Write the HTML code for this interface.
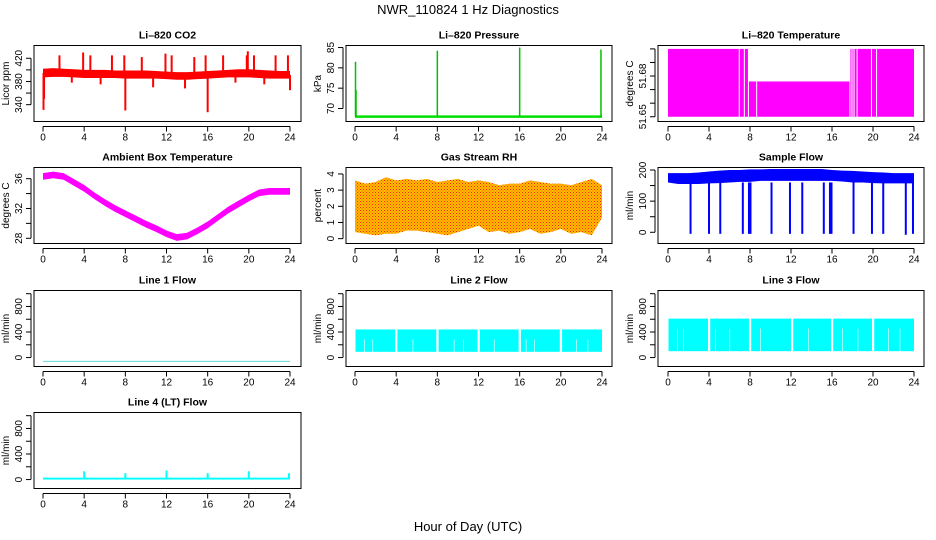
<!DOCTYPE html>
<html><head><meta charset="utf-8">
<style>
html,body{margin:0;padding:0;background:#fff;}
svg{display:block;font-family:"Liberation Sans",sans-serif;}
</style></head>
<body>
<svg id="chart" width="936" height="540" viewBox="0 0 936 540">
<text x="468" y="14" text-anchor="middle" font-size="13">NWR_110824  1 Hz Diagnostics</text>
<text x="468" y="531" text-anchor="middle" font-size="13">Hour of Day (UTC)</text>
</svg>
<script>
// ---- data arrays ----
var hourTicks = [0,4,8,12,16,20,24];
var hours = [0,1,2,3,4,5,6,7,8,9,10,11,12,13,14,15,16,17,18,19,20,21,22,23,24];
// CO2
var co2Low  = [387,388,388,387,386,386,386,386,385,385,385,385,384,383,383,384,385,386,387,387,387,386,385,385,385];
var co2High = [402,403,402,401,400,400,400,399,399,399,399,398,397,396,396,397,398,399,400,401,401,400,399,398,398];
var co2SpikeHour = [0.05,0.1,1.6,2.8,3.9,4.6,5.6,6.7,7.9,8.0,9.6,10.7,11.9,12.5,13.8,14.7,15.8,16.0,17.5,18.7,19.8,19.9,20.5,21.5,22.6,23.8,24.0];
var co2SpikeVal  = [331,350,425,378,430,425,375,425,425,330,422,370,428,425,368,422,425,327,425,378,425,432,425,375,425,425,365];
// Pressure
var presBase = 68;
var presSpikeHour = [0.05,0.1,8.0,16.0,23.9];
var presSpikeVal  = [81.5,74.5,84.2,85.0,84.5];
// Li-820 Temperature
var tempSegStart = [0.0,7.0,7.5,7.9,8.7,17.8,18.0,18.2,18.5,19.9,20.4];
var tempSegEnd   = [6.9,7.4,7.8,8.6,17.7,17.9,18.1,18.4,19.8,20.3,24.0];
var tempSegTop   = [51.70,51.70,51.70,51.676,51.676,51.70,51.70,51.70,51.70,51.70,51.70];
var tempBottom = 51.65;
// Ambient box temperature (hourly centre)
var ambient = [36.3,36.5,36.3,35.5,34.7,33.7,32.8,32.0,31.3,30.6,29.9,29.3,28.6,28.1,28.3,29.0,29.8,30.8,31.8,32.6,33.4,34.1,34.3,34.3,34.3];
// Gas stream RH
var rhLow  = [0.4,0.3,0.2,0.3,0.3,0.5,0.5,0.4,0.3,0.2,0.4,0.6,0.8,0.4,0.5,0.3,0.4,0.6,0.3,0.4,0.6,0.3,0.4,0.2,1.3];
var rhHigh = [3.6,3.4,3.5,3.8,3.6,3.7,3.6,3.7,3.5,3.6,3.7,3.5,3.6,3.5,3.3,3.4,3.4,3.6,3.5,3.4,3.4,3.3,3.5,3.7,3.3];
// Sample flow
var sfLow  = [160,155,155,155,157,158,160,162,162,165,165,165,165,165,165,165,165,163,160,160,158,157,157,157,157];
var sfHigh = [190,190,190,192,195,198,200,200,202,202,203,203,203,203,203,203,200,198,197,195,193,192,190,190,190];
var sfDropHour = [2.2,4.0,5.1,7.3,7.9,8.05,10.1,11.9,13.1,15.2,15.8,15.95,18.1,19.9,21.0,23.2,23.9];
var sfDropVal  = [-5,-5,-5,-5,-5,-5,-5,-5,-5,-5,-5,-5,-5,-5,-5,-8,-5];
// Line flows
var line1Val = -60;
var line2Low = 90, line2High = 440;
var line2GapHour = [0.9,1.7,3.9,5.6,7.9,9.6,10.5,11.9,13.5,15.9,16.6,17.4,19.9,21.5,22.6];
var line2GapWide = [0,0,1,0,1,0,0,1,0,1,0,0,1,0,0];
var line3Low = 100, line3High = 610;
var line3GapHour = [0.9,1.5,3.9,4.6,6.0,7.9,9.0,12.0,13.7,15.9,17.0,18.5,19.9,21.5,22.6];
var line3GapWide = [0,0,1,0,0,1,0,1,0,1,0,0,1,0,0];
var line4Base = 15;
var line4SpikeHour = [4.0,8.0,12.0,16.0,20.0,23.9];
var line4SpikeVal  = [130,100,140,100,130,100];

// ---- layout ----
var NS="http://www.w3.org/2000/svg";
var svg=document.getElementById('chart');
var colX0=[43,355,668], colX24=[290,602,914], boxL=[34,346,658], boxR=[301,612,924];
var rowTop=[45.5,167.5,290.5,412.5], rowH=76;
function el(tag,attrs,parent){var e=document.createElementNS(NS,tag);for(var k in attrs)e.setAttribute(k,attrs[k]);(parent||svg).appendChild(e);return e;}

function panel(name,title,ylabel,c,r,ymin,ymax,yticks,ylabels){
  var g=el('g',{});
  
  
  var top=rowTop[r],bot=top+rowH;
  var xs=function(h){return colX0[c]+(colX24[c]-colX0[c])*h/24;};
  var ys=function(v){return bot-(v-ymin)/(ymax-ymin)*rowH;};
  var cx=(boxL[c]+boxR[c])/2;
  var t=el('text',{x:cx,y:top-7,'text-anchor':'middle','font-size':'10.5','font-weight':'bold'},g);
  t.textContent=title;
  
  
  var b=el('rect',{x:boxL[c],y:top,width:boxR[c]-boxL[c],height:rowH,fill:'none',stroke:'#000','stroke-width':1},g);
  
  
  var xa=el('g',{},g);
  
  
  el('line',{x1:xs(0),x2:xs(24),y1:bot+5,y2:bot+5,stroke:'#000'},xa);
  hourTicks.forEach(function(h){
    el('line',{x1:xs(h),x2:xs(h),y1:bot+5,y2:bot+10,stroke:'#000'},xa);
    var tl=el('text',{x:xs(h),y:bot+19,'text-anchor':'middle','font-size':'10'},xa);
    tl.textContent=h;
  });
  var ya=el('g',{},g);
  
  
  var ax=boxL[c]-3;
  el('line',{x1:ax,x2:ax,y1:ys(yticks[0]),y2:ys(yticks[yticks.length-1]),stroke:'#000'},ya);
  yticks.forEach(function(v,i){
    el('line',{x1:ax-5,x2:ax,y1:ys(v),y2:ys(v),stroke:'#000'},ya);
    if(ylabels[i]!==''){
      var yl=el('text',{x:ax-9,y:ys(v),'text-anchor':'middle','font-size':'10',transform:'rotate(-90 '+(ax-9)+' '+ys(v)+')'},ya);
      yl.textContent=ylabels[i];
    }
  });
  var yt=el('text',{x:boxL[c]-25,y:(top+bot)/2,'text-anchor':'middle','font-size':'10',transform:'rotate(-90 '+(boxL[c]-25)+' '+((top+bot)/2)+')'},g);
  yt.textContent=ylabel;
  
  
  var d=el('g',{},g);
  
  
  return {xs:xs,ys:ys,g:d};
}
function band(p,lows,highs,color){
  var pts=[];
  hours.forEach(function(h,i){pts.push(p.xs(h)+','+p.ys(highs[i]));});
  for(var i=hours.length-1;i>=0;i--)pts.push(p.xs(hours[i])+','+p.ys(lows[i]));
  var e=el('polygon',{points:pts.join(' '),fill:color},p.g);
  
  
}
function vline(p,h,v1,v2,color,w){
  var e=el('line',{x1:p.xs(h),x2:p.xs(h),y1:p.ys(v1),y2:p.ys(v2),stroke:color,'stroke-width':w||1.5},p.g);
  
  
}

// CO2
var p=panel('co2','Li\u2013820 CO2','Licor ppm',0,0,311,442,[340,360,380,400,420],['340','','380','','420']);
band(p,co2Low,co2High,'#ff0000');
co2SpikeHour.forEach(function(h,i){vline(p,h,(co2Low[Math.round(h)]+co2High[Math.round(h)])/2,co2SpikeVal[i],'#ff0000',2);});
// Pressure
p=panel('pressure','Li\u2013820 Pressure','kPa',1,0,66.8,85.5,[70,75,80,85],['70','75','80','85']);
var pb=el('line',{x1:p.xs(0),x2:p.xs(24),y1:p.ys(presBase),y2:p.ys(presBase),stroke:'#00e000','stroke-width':2.5},p.g);


presSpikeHour.forEach(function(h,i){vline(p,h,presBase,presSpikeVal[i],'#00c000',1.5);});
// Li-820 temp
p=panel('li820-temp','Li\u2013820 Temperature','degrees C',2,0,51.6465,51.7025,[51.65,51.66,51.67,51.68,51.69,51.70],['51.65','','','51.68','','']);
tempSegStart.forEach(function(s,i){
  var r=el('rect',{x:p.xs(s),y:p.ys(tempSegTop[i]),width:p.xs(tempSegEnd[i])-p.xs(s),height:p.ys(tempBottom)-p.ys(tempSegTop[i]),fill:'#ff00ff'},p.g);
  
  
});
// Ambient
p=panel('ambient-temp','Ambient Box Temperature','degrees C',0,1,27.3,37.5,[28,30,32,34,36],['28','','32','','36']);
band(p,ambient.map(function(v){return v-0.45;}),ambient.map(function(v){return v+0.45;}),'#ff00ff');
// RH
p=panel('gas-rh','Gas Stream RH','percent',1,1,-0.3,4.4,[0,1,2,3,4],['0','1','2','3','4']);
var defs=el('defs',{});
var pat=el('pattern',{id:'rhp',width:3,height:3,patternUnits:'userSpaceOnUse'},defs);
el('rect',{width:3,height:3,fill:'#ffc000'},pat);
el('rect',{width:1,height:1,fill:'#ff2000'},pat);
el('rect',{x:1.5,y:1.5,width:1,height:1,fill:'#ff4000'},pat);
band(p,rhLow,rhHigh,'url(#rhp)');
// Sample flow
p=panel('sample-flow','Sample Flow','ml/min',2,1,-36,208,[0,50,100,150,200],['0','','100','','200']);
band(p,sfLow,sfHigh,'#0000ff');
sfDropHour.forEach(function(h,i){vline(p,h,160,sfDropVal[i],'#0000ff',2);});
// Line 1
p=panel('line1-flow','Line 1 Flow','ml/min',0,2,-140,1050,[0,200,400,600,800,1000],['0','','400','','800','']);
var l1=el('line',{x1:p.xs(0),x2:p.xs(24),y1:p.ys(line1Val),y2:p.ys(line1Val),stroke:'#60d8d8','stroke-width':1},p.g);


// Line 2
function gapped(p,lo,hi,gaps,wide,start,end){
  var r=el('rect',{x:p.xs(start),y:p.ys(hi),width:p.xs(end)-p.xs(start),height:p.ys(lo)-p.ys(hi),fill:'#00ffff'},p.g);
  
  
  gaps.forEach(function(h,i){
    var w=wide[i]?0.22:0.06;
    var gp=el('rect',{x:p.xs(h),y:p.ys(hi)+(wide[i]?0:10),width:p.xs(w)-p.xs(0),height:p.ys(lo)-p.ys(hi)-(wide[i]?0:10),fill:'#fff'},p.g);
    
    
  });
}
p=panel('line2-flow','Line 2 Flow','ml/min',1,2,-140,1050,[0,200,400,600,800,1000],['0','','400','','800','']);
gapped(p,line2Low,line2High,line2GapHour,line2GapWide,0.05,24);
// Line 3
p=panel('line3-flow','Line 3 Flow','ml/min',2,2,-140,1050,[0,200,400,600,800,1000],['0','','400','','800','']);
gapped(p,line3Low,line3High,line3GapHour,line3GapWide,0.05,24);
// Line 4
p=panel('line4-flow','Line 4 (LT) Flow','ml/min',0,3,-140,1050,[0,200,400,600,800,1000],['0','','400','','800','']);
var l4=el('rect',{x:p.xs(0),y:p.ys(line4Base+15),width:p.xs(24)-p.xs(0),height:p.ys(line4Base-15)-p.ys(line4Base+15),fill:'#00ffff'},p.g);


line4SpikeHour.forEach(function(h,i){vline(p,h,line4Base,line4SpikeVal[i],'#00ffff',2);});
</script>
</body></html>
